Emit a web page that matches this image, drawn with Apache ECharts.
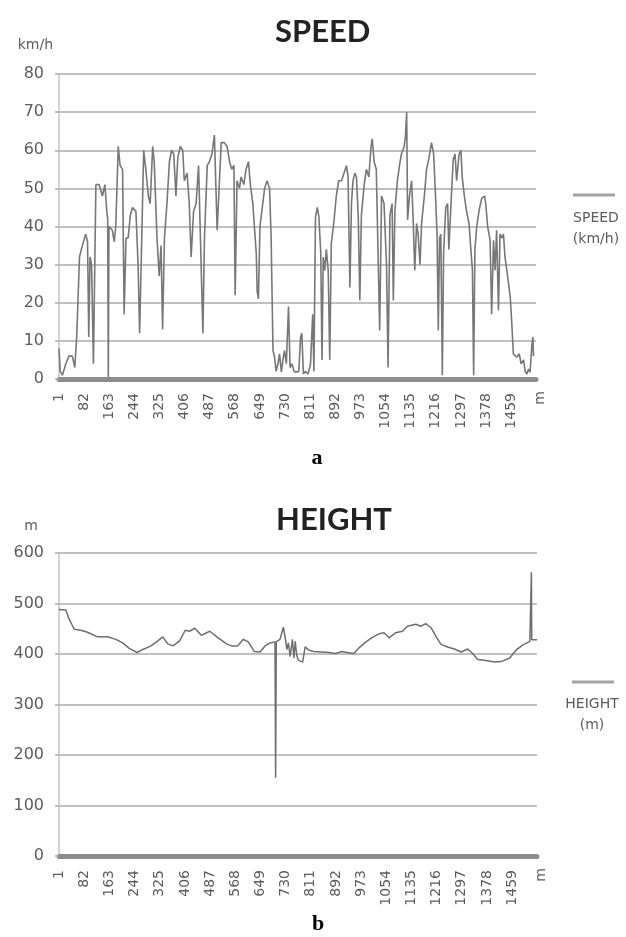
<!DOCTYPE html>
<html>
<head>
<meta charset="utf-8">
<script src="https://cdn.jsdelivr.net/npm/echarts@6/dist/echarts.min.js"></script>
<style>
html,body{margin:0;padding:0;background:#ffffff;}
#chart{width:626px;height:937px;}
</style>
</head>
<body>
<div id="chart"></div>
<script>
// ---- data ----
const sampleCount = 1539;               // samples on the x axis, labelled 1..1539
const labelStep = 81;                   // tick labels every 81 samples: 1, 82, 163, ...
const categories = Array.from({length: sampleCount}, (_, i) => String(i + 1));

// SPEED [sample index (0-based), km/h]
const speedPoints = [
  [0,8],[4,2],[11,1],[22,4],[32,6],[43,6],[51,3],[57,11],[61,20],[66,32],[72,34],[79,36],[86,38],[92,36],[96,11],
  [100,32],[105,30],[111,4],[119,51],[129,51],[140,48],[148,51],[154,44],[157,42],[159,0.5],[161,40],[172,39],
  [178,36],[183,40],[191,61],[197,56],[205,55],[210,17],[216,37],[223,37],[230,43],[237,45],[248,44],[255,30],
  [260,12],[266,34],[273,60],[280,55],[288,48],[294,46],[302,61],[307,57],[316,37],[323,27],[329,35],[334,13],
  [340,37],[348,46],[356,57],[363,60],[370,59],[377,48],[383,58],[391,61],[399,60],[404,52],[413,54],[420,46],
  [426,32],[434,44],[442,46],[450,56],[456,37],[464,12],[469,37],[478,56],[485,57],[493,59],[501,64],[510,39],
  [523,62],[533,62],[542,61],[550,57],[557,55],[564,56],[568,22],[574,52],[582,50],[587,53],[596,51],[603,55],
  [611,57],[617,51],[625,46],[630,40],[636,33],[639,23],[643,21],[648,40],[654,44],[663,50],[671,52],[679,50],
  [684,37],[690,7.5],[695,5.7],[700,2],[706,4],[711,6.6],[717,1.8],[722,5],[727,7.5],[733,4],[740,19],[745,3],
  [751,4],[758,2],[765,1.8],[773,2],[779,11],[783,12],[788,1.3],[794,2],[803,1.3],[811,4],[818,17],[822,2],
  [827,42.5],[833,45],[838,42.5],[844,33],[848,5],[852,32],[857,28.5],[862,34],[868,28.5],[873,5],[878,35.5],
  [887,41.7],[894,48],[902,52],[911,52],[919,54],[927,56],[932,53],[938,24],[943,46],[948,52],[954,54],[959,53],
  [965,42.5],[970,20.6],[975,43],[984,51],[991,55],[999,53],[1006,61],[1010,63],[1016,57],[1018,56.6],[1023,55],
  [1034,12.7],[1040,48],[1048,46],[1056,30],[1061,3],[1067,43],[1074,46],[1078,20.6],[1083,44],[1091,52],
  [1099,56.6],[1104,59],[1113,61],[1117,63.6],[1121,70],[1124,41.7],[1130,48],[1137,52],[1142,41.7],[1147,28.5],
  [1153,40.8],[1158,38],[1164,30],[1169,40.8],[1178,48],[1185,55],[1193,58],[1201,62],[1208,59],[1214,48],
  [1219,38],[1223,12.7],[1227,37],[1231,38],[1236,1],[1240,33],[1247,45],[1253,46],[1257,34],[1264,46],
  [1271,57.5],[1277,59],[1282,52],[1290,59],[1296,60],[1300,53],[1307,48],[1314,44],[1322,40.8],[1328,34],
  [1333,28.5],[1337,1],[1341,34],[1347,40],[1354,44],[1363,47.4],[1372,48],[1376,46],[1382,40],[1390,36.4],
  [1395,17],[1401,36.4],[1406,28.5],[1411,39],[1417,18],[1422,38],[1428,37],[1433,38],[1438,32],[1444,28.5],
  [1449,29],[1455,21.5],[1460,14.5],[1465,6.6],[1471,7],[1476,5.7],[1484,6.6],[1490,4],[1498,5],[1503,2],
  [1509,1.3],[1514,2.6],[1519,1.8],[1525,9.2],[1528,11],[1530,6]
];

// HEIGHT [sample index (0-based), m]
const heightPoints = [
  [0,488],[22,487],[32,470],[49,449],[70,447],[92,443],[124,434],[156,434],[183,429],[205,422],[226,411],
  [251,403],[270,409],[296,416],[318,426],[334,434],[350,420],[367,416],[388,426],[406,447],[420,445],[437,451],
  [458,437],[485,445],[512,432],[539,420],[555,416],[575,416],[593,429],[609,424],[628,405],[647,404],[663,416],
  [679,422],[695,424],[697,155],[699,424],[711,429],[722,453],[728,432],[733,409],[738,422],[744,395],[751,429],
  [756,392],[760,425],[765,397],[770,388],[776,385],[784,384],[792,414],[803,408],[819,405],[846,404],[868,403],
  [889,401],[911,405],[927,403],[949,401],[965,412],[986,423],[1008,433],[1030,440],[1046,442],[1062,432],
  [1083,442],[1105,445],[1121,455],[1148,459],[1164,455],[1180,460],[1197,452],[1213,435],[1229,419],[1250,414],
  [1272,410],[1294,404],[1315,410],[1331,401],[1347,389],[1374,387],[1401,384],[1423,385],[1450,392],[1471,408],
  [1493,418],[1515,425],[1519,425],[1520,562],[1521,428],[1538,428]
];

const speedAxis = {min: 0, max: 80, interval: 10};
const heightAxis = {min: 0, max: 600, interval: 100};

// ---- styling ----
const labelColor = '#5c5c5c';
const gridColor = '#ababab';
const lineColor = '#777777';
const labelFont = 'DejaVu Sans';

function xAxisFor(gridIndex) {
  return {
    type: 'category', gridIndex: gridIndex, data: categories, boundaryGap: false,
    name: 'm', nameLocation: 'end', nameGap: 4, nameRotate: 90,
    nameTextStyle: {fontFamily: labelFont, fontSize: 14, color: labelColor,
      align: 'right', verticalAlign: 'middle', padding: [0, 12, 0, 0]},
    offset: 2,
    axisLine: {show: true, lineStyle: {color: '#8c8c8c', width: 5}},
    axisTick: {show: false},
    axisLabel: {interval: labelStep - 1, rotate: 90, margin: 12,
      fontFamily: labelFont, fontSize: 14, color: labelColor},
    splitLine: {show: false}
  };
}
function yAxisFor(gridIndex, range, unit, namePad, nameGap) {
  return {
    type: 'value', gridIndex: gridIndex, min: range.min, max: range.max, interval: range.interval,
    name: unit, nameLocation: 'end', nameGap: nameGap,
    nameTextStyle: {fontFamily: labelFont, fontSize: 14, color: labelColor, align: 'right', padding: [0, namePad, 0, 0]},
    axisLine: {show: true, lineStyle: {color: '#c4c4c4', width: 1.5}},
    axisTick: {show: true, length: 4, lineStyle: {color: gridColor, width: 1.5}},
    axisLabel: {margin: 15, fontFamily: labelFont, fontSize: 16, color: labelColor},
    splitLine: {show: true, lineStyle: {color: gridColor, width: 1.5}}
  };
}
function legendFor(name, left, top) {
  return {data: [name], left: left, top: top, orient: 'horizontal', padding: 0, itemGap: 0,
    icon: 'rect', itemWidth: 42, itemHeight: 3, selectedMode: false,
    formatter: () => '', textStyle: {fontSize: 1},
    itemStyle: {color: '#a3a3a3'}};
}
function legendText(lines, x, y) {
  return lines.map((t, i) => ({
    type: 'text', x: x, y: y + i * 21,
    style: {text: t, font: '14px "DejaVu Sans"', fill: labelColor,
      textAlign: 'center', textVerticalAlign: 'middle', align: 'center', verticalAlign: 'middle'}
  }));
}
function caption(t, x, y) {
  return {type: 'text', x: x, y: y,
    style: {text: t, font: 'bold 22px "Liberation Serif"', fill: '#000',
      textAlign: 'center', textVerticalAlign: 'middle', align: 'center', verticalAlign: 'middle'}};
}

const chart = echarts.init(document.getElementById('chart'), null, {renderer: 'canvas'});
chart.setOption({
  animation: false,
  backgroundColor: '#ffffff',
  title: [
    {text: 'SPEED', left: 275, top: 16, padding: 0,
      textStyle: {fontFamily: 'Lato', fontWeight: 'bold', fontSize: 31, color: '#222'}},
    {text: 'HEIGHT', left: 276, top: 504, padding: 0,
      textStyle: {fontFamily: 'Lato', fontWeight: 'bold', fontSize: 31, color: '#222'}}
  ],
  legend: [legendFor('SPEED', 573, 193.5), legendFor('HEIGHT', 572, 680.5)],
  grid: [
    {left: 59, top: 74, width: 477, height: 305, outerBoundsMode: 'none', containLabel: false},
    {left: 59, top: 553, width: 478, height: 303, outerBoundsMode: 'none', containLabel: false}
  ],
  xAxis: [xAxisFor(0), xAxisFor(1)],
  yAxis: [yAxisFor(0, speedAxis, 'km/h', 6, 22), yAxisFor(1, heightAxis, 'm', 21, 20)],
  series: [
    {name: 'SPEED', type: 'line', xAxisIndex: 0, yAxisIndex: 0, data: speedPoints,
      symbol: 'none', showSymbol: false, lineStyle: {color: lineColor, width: 1.6}, itemStyle: {color: lineColor}},
    {name: 'HEIGHT', type: 'line', xAxisIndex: 1, yAxisIndex: 1, data: heightPoints,
      symbol: 'none', showSymbol: false, lineStyle: {color: '#6e6e6e', width: 1.5}, itemStyle: {color: '#6e6e6e'}}
  ],
  graphic: [].concat(
    legendText(['SPEED', '(km/h)'], 596, 218),
    legendText(['HEIGHT', '(m)'], 592, 704),
    [caption('a', 317, 458), caption('b', 318, 924)]
  )
});
</script>
</body>
</html>
